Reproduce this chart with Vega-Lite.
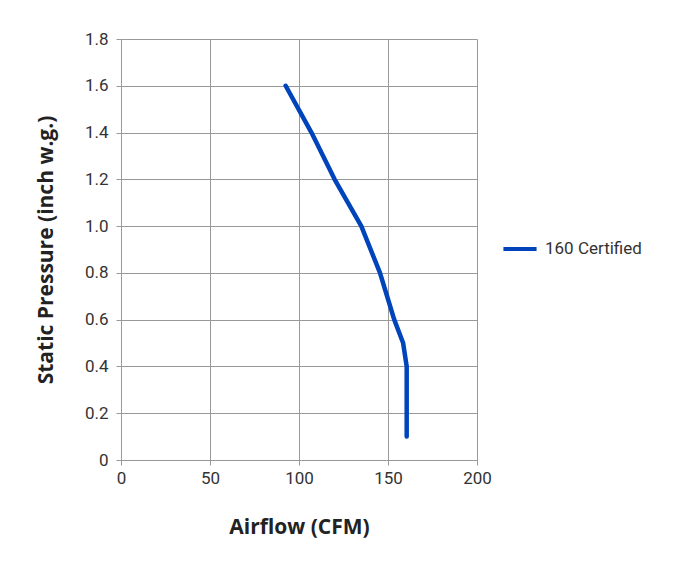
{
  "$schema": "https://vega.github.io/schema/vega-lite/v6.json",
  "width": 356,
  "height": 421,
  "autosize": "none",
  "padding": {"left": 121, "top": 39, "right": 199, "bottom": 101},
  "background": "white",
  "data": {
    "values": [
      {"cfm": 92.5, "sp": 1.6, "series": "160 Certified"},
      {"cfm": 107, "sp": 1.4, "series": "160 Certified"},
      {"cfm": 120, "sp": 1.2, "series": "160 Certified"},
      {"cfm": 135, "sp": 1.0, "series": "160 Certified"},
      {"cfm": 145.5, "sp": 0.8, "series": "160 Certified"},
      {"cfm": 149.5, "sp": 0.7, "series": "160 Certified"},
      {"cfm": 153.5, "sp": 0.6, "series": "160 Certified"},
      {"cfm": 158.5, "sp": 0.5, "series": "160 Certified"},
      {"cfm": 160.5, "sp": 0.4, "series": "160 Certified"},
      {"cfm": 160.5, "sp": 0.1, "series": "160 Certified"}
    ]
  },
  "mark": {"type": "line", "strokeWidth": 4.5, "strokeCap": "round", "strokeJoin": "round"},
  "encoding": {
    "x": {
      "field": "cfm", "type": "quantitative",
      "scale": {"domain": [0, 200], "nice": false},
      "axis": {"values": [0, 50, 100, 150, 200], "title": "Airflow (CFM)", "titlePadding": 30, "labelFlush": false, "labelPadding": 5}
    },
    "y": {
      "field": "sp", "type": "quantitative",
      "scale": {"domain": [0, 1.8], "nice": false},
      "axis": {
        "values": [0, 0.2, 0.4, 0.6, 0.8, 1.0, 1.2, 1.4, 1.6, 1.8],
        "labelExpr": "datum.value == 0 ? '0' : format(datum.value, '.1f')",
        "title": "Static Pressure (inch w.g.)", "titlePadding": 28, "labelPadding": 8
      }
    },
    "color": {
      "field": "series", "type": "nominal",
      "scale": {"range": ["#0044BB"]},
      "legend": {
        "title": null, "orient": "none", "legendX": 380, "legendY": 191,
        "symbolType": "stroke", "symbolStrokeWidth": 4, "symbolSize": 1100,
        "labelFont": "Roboto", "labelFontSize": 17, "labelColor": "#333333", "labelOffset": 6
      }
    }
  },
  "config": {
    "view": {"stroke": null},
    "axis": {
      "grid": true, "gridColor": "#999999", "gridWidth": 1,
      "domainColor": "#999999", "tickColor": "#999999", "tickSize": 5,
      "labelFont": "Roboto", "labelFontSize": 17, "labelColor": "#333333",
      "titleFont": "Open Sans", "titleFontSize": 21, "titleFontWeight": "bold", "titleColor": "#222222"
    }
  }
}
